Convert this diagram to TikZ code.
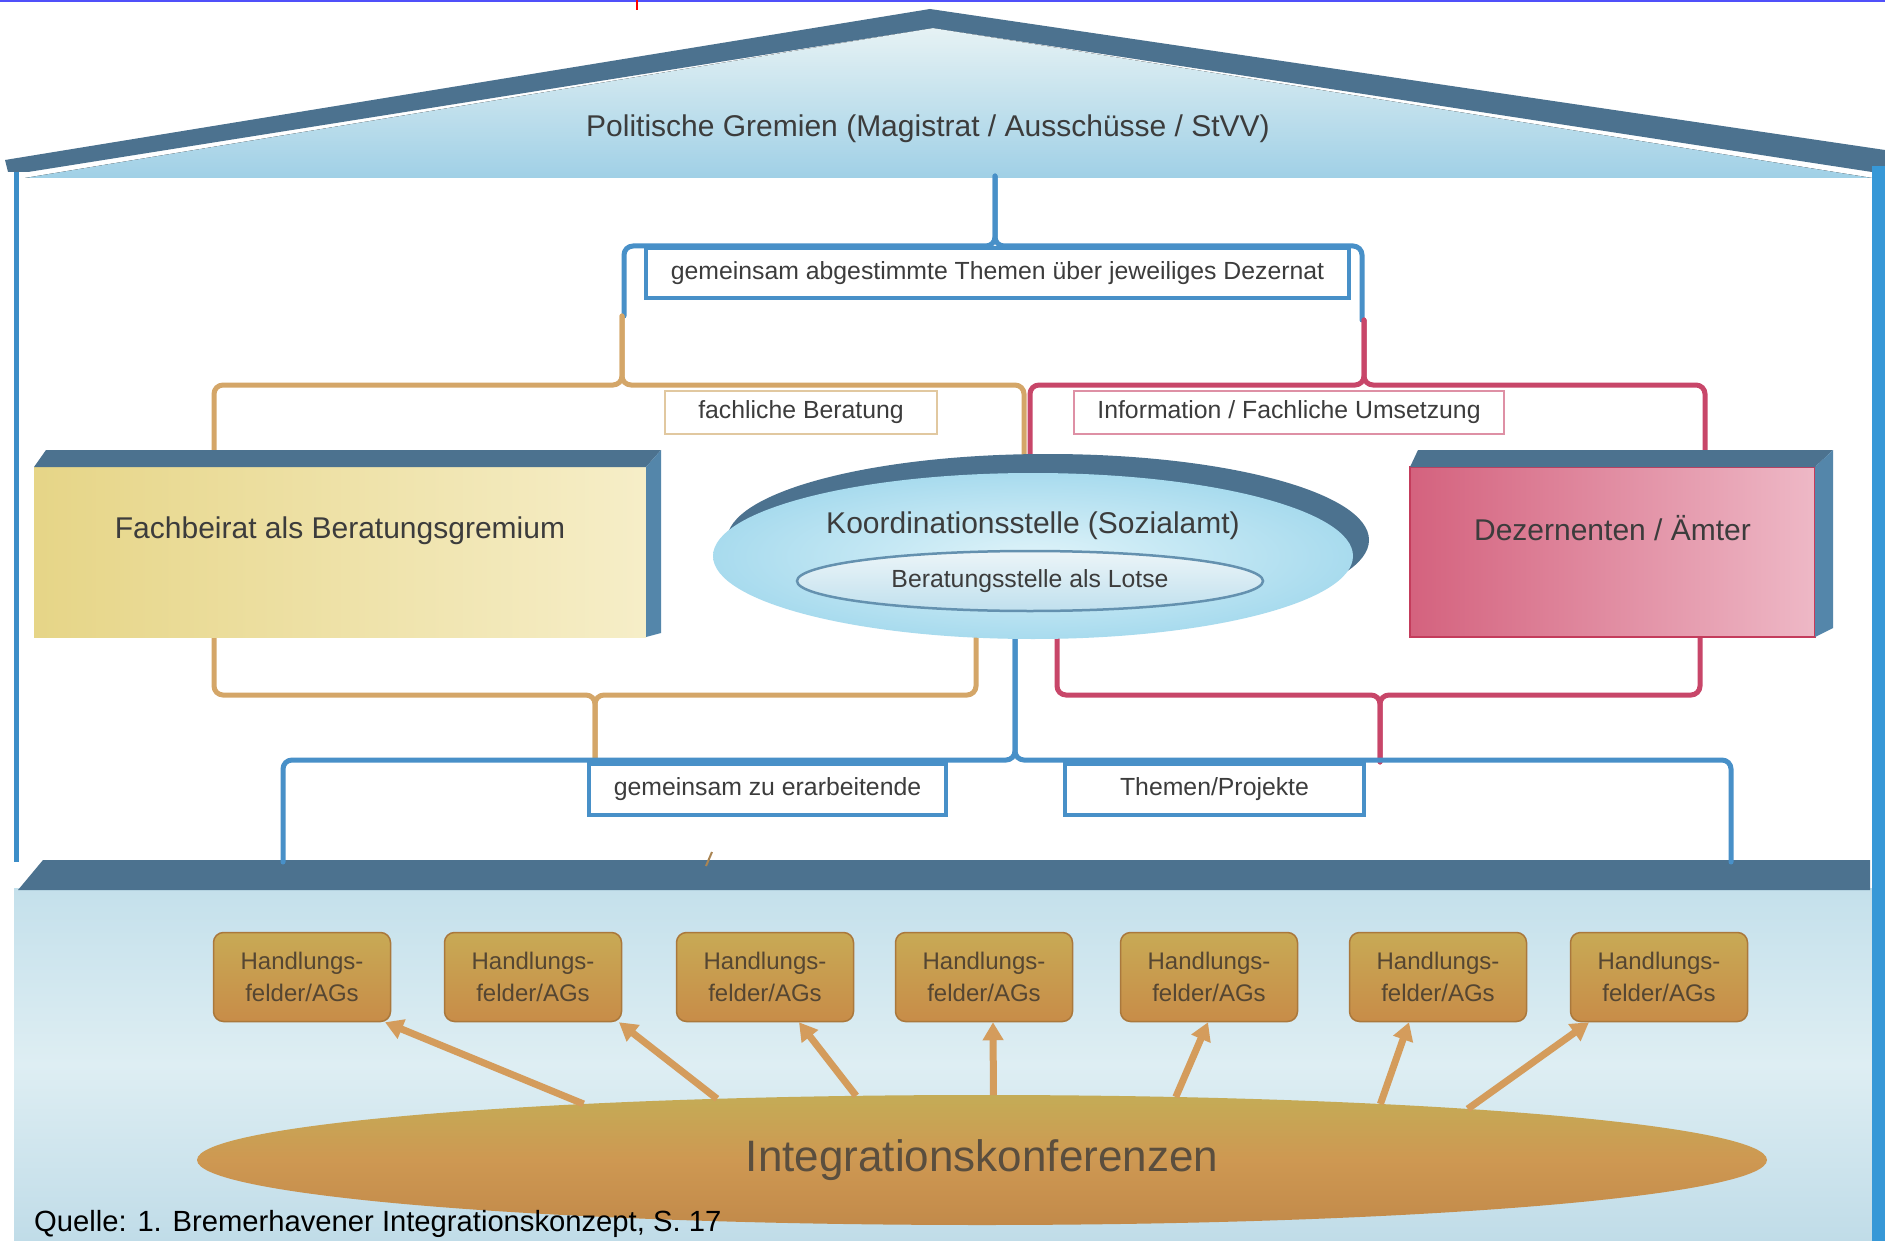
\documentclass[tikz,border=0pt]{standalone}
\usepackage{fontspec}
\setmainfont{Liberation Sans}
\usetikzlibrary{arrows.meta,shapes.geometric,calc}

\definecolor{randlinie}{RGB}{80,80,250}
\definecolor{dunkel}{RGB}{76,114,143}
\definecolor{seitenblau}{RGB}{84,134,170}
\definecolor{wand}{RGB}{60,142,200}
\definecolor{wandhell}{RGB}{55,152,215}
\definecolor{dachhell}{RGB}{230,242,244}
\definecolor{dachunten}{RGB}{160,208,230}
\definecolor{bodenoben}{RGB}{196,224,235}
\definecolor{bodenmitte}{RGB}{222,238,243}
\definecolor{bodenunten}{RGB}{192,220,232}
\definecolor{linieblau}{RGB}{72,144,200}
\definecolor{linieorange}{RGB}{212,166,104}
\definecolor{linierot}{RGB}{200,70,105}
\definecolor{beratungrand}{RGB}{225,200,160}
\definecolor{schrift}{RGB}{60,60,60}
\definecolor{gelbdunkel}{RGB}{230,213,135}
\definecolor{gelbhell}{RGB}{246,238,200}
\definecolor{rosadunkel}{RGB}{212,98,126}
\definecolor{rosahell}{RGB}{238,184,198}
\definecolor{rosarand}{RGB}{196,60,92}
\definecolor{koordhell}{RGB}{222,243,249}
\definecolor{koorddunkel}{RGB}{168,219,238}
\definecolor{lotserand}{RGB}{100,145,175}
\definecolor{lotsehell}{RGB}{236,245,248}
\definecolor{lotseblau}{RGB}{192,224,238}
\definecolor{hfoben}{RGB}{200,170,85}
\definecolor{hfunten}{RGB}{200,140,72}
\definecolor{hfrand}{RGB}{170,120,60}
\definecolor{hftext}{RGB}{85,70,50}
\definecolor{pfeilfarbe}{RGB}{212,156,92}
\definecolor{konfoben}{RGB}{196,172,86}
\definecolor{konfmitte}{RGB}{206,152,82}
\definecolor{konfunten}{RGB}{194,138,74}
\definecolor{konftext}{RGB}{90,78,62}

\begin{document}
\begin{tikzpicture}[x=1pt, y=-1pt,
    zweig/.style = {line width=5pt, rounded corners=9pt, line cap=round},
    etikett/.style = {draw=linieblau, line width=3.5pt, fill=white, text=schrift, inner sep=0pt, font=\fontsize{24.8}{30}\selectfont},
    kasten/.style = {inner sep=0pt, outer sep=0pt, text=schrift, font=\fontsize{30}{36}\selectfont, text depth=48pt},
    handlung/.style = {draw=hfrand, line width=1.5pt, rounded corners=10pt, top color=hfoben, bottom color=hfunten, minimum width=177pt, minimum height=89pt, inner sep=0pt, align=center, text=hftext, font=\fontsize{24}{32}\selectfont},
    pfeil/.style = {draw=pfeilfarbe, line width=7pt, -{Triangle[width=20pt,length=18pt]}}]
    \useasboundingbox (0,0) rectangle (1885,1241);
    \fill[white] (0,0) rectangle (1885,1241);
    \fill[randlinie] (0,0) rectangle (1885,2.5);
    \draw[red, line width=1.5pt] (637,0) -- (637,10);

    % roof
    \fill[top color=dachhell, bottom color=dachunten] (25,178) -- (933,28) -- (1872,178) -- cycle;
    \fill[dunkel] (5,160) -- (930,9) -- (1885,150) -- (1885,174) -- (933,28) -- (28,172) -- (8,172) -- cycle;
    \node[text=schrift, font=\fontsize{30}{36}\selectfont] (gremien) at (928,129) {Politische Gremien (Magistrat / Ausschüsse / StVV)};

    % walls and floor
    \draw[wand, line width=5pt] (16,172) -- (16,862);
    \fill[top color=bodenoben, bottom color=bodenunten, middle color=bodenmitte] (14,888) rectangle (1872,1241);
    \fill[dunkel] (43,860) -- (1870,860) -- (1870,890) -- (18,890) -- cycle;
    \fill[wandhell] (1872,166) rectangle (1885,1241);
    \draw[linieorange!80!black, line width=2pt] (712,852) -- (706,866);

    % upper braces
    \draw[zweig, linieblau] (624,316) -- (624,246) -- (995,246) -- (995,176);
    \draw[zweig, linieblau] (1362,320) -- (1362,246) -- (995,246) -- (995,176);
    \draw[zweig, linieorange] (214,467) -- (214,385) -- (622,385) -- (622,316);
    \draw[zweig, linieorange] (1024,473) -- (1024,385) -- (622,385) -- (622,316);
    \draw[zweig, linierot] (1030,473) -- (1030,385) -- (1364,385) -- (1364,320);
    \draw[zweig, linierot] (1705,467) -- (1705,385) -- (1364,385) -- (1364,320);

    % lower braces
    \draw[zweig, linieorange] (214,630) -- (214,695) -- (595,695) -- (595,762);
    \draw[zweig, linieorange] (976,630) -- (976,695) -- (595,695) -- (595,762);
    \draw[zweig, linierot] (1057,630) -- (1057,695) -- (1380,695) -- (1380,762);
    \draw[zweig, linierot] (1700,630) -- (1700,695) -- (1380,695) -- (1380,762);
    \draw[zweig, linieblau] (283,862) -- (283,760) -- (1015,760) -- (1015,630);
    \draw[zweig, linieblau] (1731,862) -- (1731,760) -- (1015,760) -- (1015,630);

    % boxes
    \node[kasten, left color=gelbdunkel, right color=gelbhell, minimum width=612pt, minimum height=170pt] (fachbeirat) at (340,552) {Fachbeirat als Beratungsgremium};
    \fill[dunkel] (fachbeirat.north west) -- ++(12,-17) -- ++(615,0) -- (fachbeirat.north east) -- cycle;
    \fill[seitenblau] (fachbeirat.north east) -- ++(15,-17) -- ++(0,183) -- (fachbeirat.south east) -- cycle;

    \node[kasten, draw=rosarand, line width=2pt, left color=rosadunkel, right color=rosahell, minimum width=405pt, minimum height=170pt] (dezernenten) at (1612.5,552) {Dezernenten / Ämter};
    \fill[dunkel] (dezernenten.north west) -- ++(8,-17) -- ++(415,0) -- (dezernenten.north east) -- cycle;
    \fill[seitenblau] (dezernenten.north east) -- ++(18,-17) -- ++(0,178) -- (dezernenten.south east) -- cycle;

    \fill[dunkel] (1048,540) ellipse [x radius=321pt, y radius=86pt];
    \node[ellipse, inner sep=0pt, outer sep=0pt, minimum width=640pt, minimum height=166pt, inner color=koordhell, outer color=koorddunkel, text=schrift, font=\fontsize{30}{36}\selectfont, text depth=66pt] (koord) at (1033,556) {Koordinationsstelle (Sozialamt)};
    \node[ellipse, draw=lotserand, line width=2.5pt, top color=lotsehell, bottom color=lotseblau, inner sep=0pt, minimum width=466pt, minimum height=60pt, text=schrift, font=\fontsize{24.8}{30}\selectfont] (lotse) at (1030,581) {Beratungsstelle als Lotse};

    % labels
    \node[etikett, minimum width=703pt, minimum height=50pt] (themen) at (997.5,273) {gemeinsam abgestimmte Themen über jeweiliges Dezernat};
    \node[etikett, draw=beratungrand, line width=1.5pt, minimum width=272pt, minimum height=43pt] (beratung) at (801,412.5) {fachliche Beratung};
    \node[etikett, draw=linierot!60, line width=2pt, minimum width=430pt, minimum height=43pt] (umsetzung) at (1289,412.5) {Information / Fachliche Umsetzung};
    \node[etikett, minimum width=357pt, minimum height=51pt] (erarbeiten) at (767.5,789.5) {gemeinsam zu erarbeitende};
    \node[etikett, minimum width=299pt, minimum height=51pt] (projekte) at (1214.5,789.5) {Themen/Projekte};

    % basement
    \foreach \i/\x in {1/302,2/533,3/765,4/984,5/1209,6/1438,7/1659}
        \node[handlung] (hf\i) at (\x,977) {Handlungs-\\felder/AGs};
    \node[ellipse, inner sep=0pt, outer sep=0pt, minimum width=1570pt, minimum height=130pt, top color=konfoben, bottom color=konfunten, middle color=konfmitte, text=konftext, font=\fontsize{44}{50}\selectfont] (konferenz) at (982,1160) {Integrationskonferenzen};
    \foreach \i/\w/\d in {1/172/83,2/167/86,3/153/34,4/80/9,5/18/-1,6/8/-29,7/6/-70}
        \draw[pfeil] (konferenz.\w) -- ($(hf\i.south)+(\d,0)$);

    \node[anchor=base west, inner sep=0pt, font=\fontsize{29.2}{35}\selectfont] (quelle) at (34,1231) {Quelle: 1. Bremerhavener Integrationskonzept, S. 17};
\end{tikzpicture}
\end{document}
